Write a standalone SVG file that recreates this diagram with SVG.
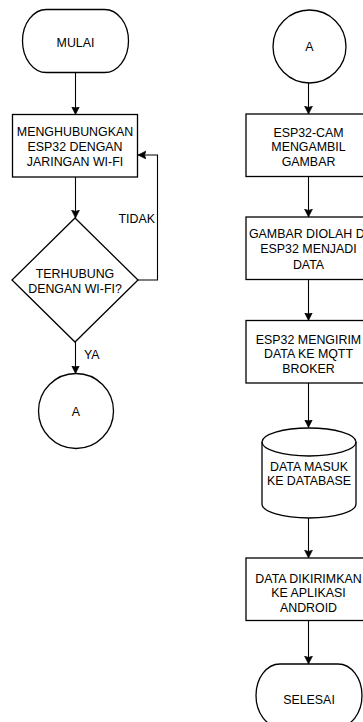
<svg xmlns="http://www.w3.org/2000/svg" width="363" height="722" viewBox="0 0 363 722">
<style>
.s{fill:#fff;stroke:#000;stroke-width:1.3}
.c{fill:none;stroke:#000;stroke-width:1.1}
.t{font-family:"Liberation Sans",Arial,Helvetica,sans-serif;font-size:12.4px;fill:#000;text-anchor:middle}
.l{font-family:"Liberation Sans",Arial,Helvetica,sans-serif;font-size:12.4px;fill:#000}
</style>
<defs>
<marker id="ar" markerUnits="userSpaceOnUse" markerWidth="9" markerHeight="9" refX="8" refY="4" orient="auto">
<path d="M0,0 L8,4 L0,8 L1.5,4 Z" fill="#000" stroke="#000" stroke-width="0.6"/>
</marker>
</defs>
<rect width="363" height="722" fill="#fff"/>
<g id="connectors">
<line class="c" x1="75.5" y1="72.5" x2="75.5" y2="114.5" marker-end="url(#ar)"/>
<line class="c" x1="75.5" y1="177" x2="75.5" y2="218" marker-end="url(#ar)"/>
<polyline class="c" points="138,280 157.5,280 157.5,155 138,155" marker-end="url(#ar)"/>
<line class="c" x1="75.5" y1="342" x2="75.5" y2="373.5" marker-end="url(#ar)"/>
<line class="c" x1="308.5" y1="83" x2="308.5" y2="114" marker-end="url(#ar)"/>
<line class="c" x1="308.5" y1="176.5" x2="308.5" y2="217" marker-end="url(#ar)"/>
<line class="c" x1="308.5" y1="279.5" x2="308.5" y2="320.5" marker-end="url(#ar)"/>
<line class="c" x1="308.5" y1="383" x2="308.5" y2="427.5" marker-end="url(#ar)"/>
<line class="c" x1="308.5" y1="518" x2="308.5" y2="558" marker-end="url(#ar)"/>
<line class="c" x1="308.5" y1="620.5" x2="308.5" y2="664" marker-end="url(#ar)"/>
<text class="l" x="155" y="222.5" text-anchor="end">TIDAK</text>
<text class="l" x="84" y="358.5">YA</text>
</g>
<g id="mulai">
<rect class="s" x="22.5" y="9.5" width="106" height="63" rx="24" ry="31.5"/>
<text class="t" x="75.5" y="47">MULAI</text>
</g>
<g id="hubungkan">
<rect class="s" x="12.5" y="114.5" width="125" height="62.5"/>
<text class="t" x="75" y="136">MENGHUBUNGKAN</text>
<text class="t" x="75" y="151">ESP32 DENGAN</text>
<text class="t" x="75" y="165.5">JARINGAN WI-FI</text>
</g>
<g id="terhubung">
<polygon class="s" points="75,218 138,280 75,342 12,280"/>
<text class="t" x="75" y="278">TERHUBUNG</text>
<text class="t" x="75" y="293">DENGAN WI-FI?</text>
</g>
<g id="a-left">
<circle class="s" cx="76" cy="411" r="37.5"/>
<text class="t" x="76" y="415.5">A</text>
</g>
<g id="a-right">
<circle class="s" cx="309.5" cy="46.5" r="36.5"/>
<text class="t" x="309.5" y="51">A</text>
</g>
<g id="ambil">
<rect class="s" x="246" y="114" width="125" height="62.5"/>
<text class="t" x="308.5" y="136.5">ESP32-CAM</text>
<text class="t" x="308.5" y="151">MENGAMBIL</text>
<text class="t" x="308.5" y="165.5">GAMBAR</text>
</g>
<g id="olah">
<rect class="s" x="246" y="217" width="125" height="62.5"/>
<text class="t" x="308.5" y="238">GAMBAR DIOLAH DI</text>
<text class="t" x="308.5" y="252.5">ESP32 MENJADI</text>
<text class="t" x="308.5" y="269">DATA</text>
</g>
<g id="kirim">
<rect class="s" x="246" y="320.5" width="125" height="62.5"/>
<text class="t" x="308.5" y="343.5">ESP32 MENGIRIM</text>
<text class="t" x="308.5" y="358">DATA KE MQTT</text>
<text class="t" x="308.5" y="372.5">BROKER</text>
</g>
<g id="database">
<path class="s" d="M262,442 A47,14 0 0 1 356,442 L356,504 A47,14 0 0 1 262,504 Z"/>
<path class="c" d="M262,442 A47,14 0 0 0 356,442" style="stroke-width:1.3"/>
<text class="t" x="309" y="471">DATA MASUK</text>
<text class="t" x="309" y="485">KE DATABASE</text>
</g>
<g id="android">
<rect class="s" x="246" y="558" width="125" height="62.5"/>
<text class="t" x="308.5" y="582.5">DATA DIKIRIMKAN</text>
<text class="t" x="308.5" y="597">KE APLIKASI</text>
<text class="t" x="308.5" y="611.5">ANDROID</text>
</g>
<g id="selesai">
<rect class="s" x="256" y="664" width="106" height="63" rx="24" ry="31.5"/>
<text class="t" x="309" y="703.5">SELESAI</text>
</g>
</svg>
